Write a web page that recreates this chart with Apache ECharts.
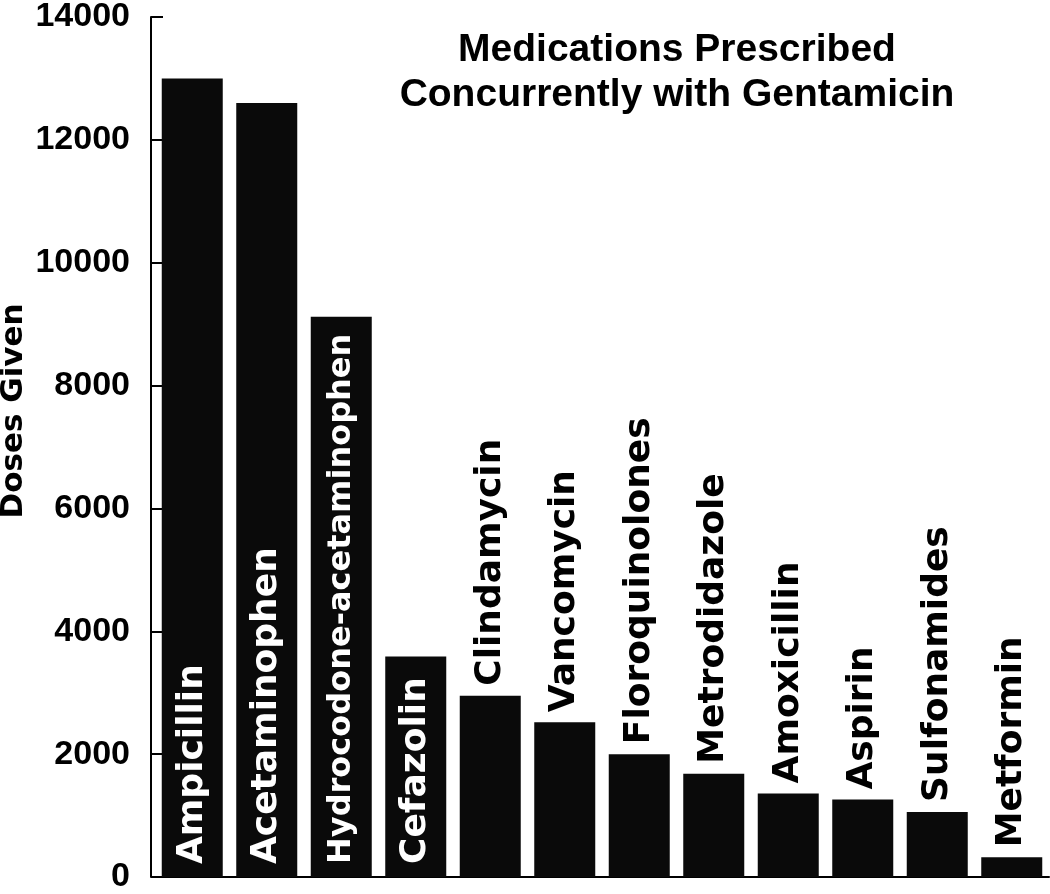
<!DOCTYPE html>
<html>
<head>
<meta charset="utf-8">
<title>Medications Prescribed Concurrently with Gentamicin</title>
<script src="https://cdn.jsdelivr.net/npm/echarts@6/dist/echarts.min.js"></script>
<style>
    html, body { margin: 0; padding: 0; background: #fff; }
    #chart { width: 1050px; height: 894px; }
</style>
</head>
<body>
<div id="chart"></div>
<script>
// medications, in the order shown
const medications = ['Ampicillin', 'Acetaminophen', 'Hydrocodone-acetaminophen', 'Cefazolin',
    'Clindamycin', 'Vancomycin', 'Floroquinolones', 'Metrodidazole', 'Amoxicillin',
    'Aspirin', 'Sulfonamides', 'Metformin']
// doses given
const doses = [13000, 12600, 9120, 3590, 2950, 2520, 2000, 1680, 1360, 1260, 1060, 320]
// true = name written inside the bar, false = above it
const labelInside = [true, true, true, true, false, false, false, false, false, false, false, false]
const yTicks = [0, 2000, 4000, 6000, 8000, 10000, 12000, 14000]

const sansBold = '"Liberation Sans", Arial, sans-serif'
const barFont = '"DejaVu Sans", sans-serif'
const barFontSize = 36
const longLabelSize = 32 // the long name is squeezed to fit inside its bar

let chart = echarts.init(document.getElementById('chart'))

let barData = doses.map(function (v, i) {
    let inside = labelInside[i]
    let name = medications[i]
    return {
        value: v,
        label: {
            show: true,
            formatter: name,
            position: inside ? 'insideBottom' : 'top',
            distance: inside ? 13 : 10,
            rotate: 90,
            align: 'left',
            verticalAlign: 'middle',
            color: inside ? '#ffffff' : '#000000',
            fontFamily: barFont,
            fontWeight: 'bold',
            fontSize: name.length > 20 ? longLabelSize : barFontSize
        }
    }
})

let option = {
    backgroundColor: '#ffffff',
    animation: false,
    title: {
        text: 'Medications Prescribed\nConcurrently with Gentamicin',
        left: 672,
        top: 23,
        textAlign: 'center',
        textStyle: {
            fontFamily: sansBold,
            fontWeight: 'bold',
            fontSize: 39,
            lineHeight: 45,
            color: '#000'
        }
    },
    graphic: [{
        type: 'text',
        x: 14,
        y: 411,
        rotation: Math.PI / 2,
        style: {
            text: 'Doses Given',
            font: 'bold 31px "DejaVu Sans", sans-serif',
            fill: '#000',
            align: 'center',
            verticalAlign: 'middle'
        }
    }],
    grid: {
        left: 155,
        right: 1,
        top: 14,
        bottom: 13,
        containLabel: false
    },
    xAxis: {
        type: 'category',
        data: medications,
        axisLine: { show: true, lineStyle: { color: '#000', width: 2 } },
        axisTick: { show: false },
        axisLabel: { show: false },
        splitLine: { show: false }
    },
    yAxis: {
        type: 'value',
        min: yTicks[0],
        max: yTicks[yTicks.length - 1],
        interval: 2000,
        offset: 4,
        axisLine: { show: true, lineStyle: { color: '#000', width: 2 } },
        axisTick: { show: true, inside: true, length: 12, lineStyle: { color: '#000', width: 2 } },
        axisLabel: {
            margin: 21,
            color: '#000',
            fontFamily: sansBold,
            fontWeight: 'bold',
            fontSize: 34,
            formatter: function (v) { return String(v) }
        },
        splitLine: { show: false }
    },
    series: [{
        type: 'bar',
        data: barData,
        barWidth: 61,
        itemStyle: { color: '#0a0a0a' }
    }]
}

chart.setOption(option)
</script>
</body>
</html>
